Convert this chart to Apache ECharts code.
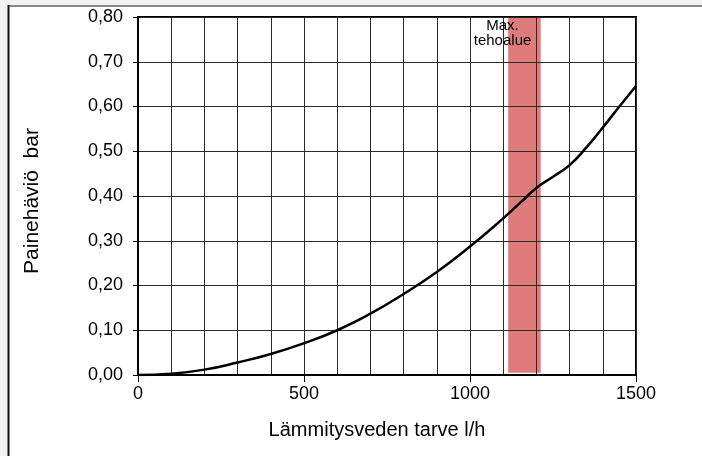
<!DOCTYPE html>
<html>
<head>
<meta charset="utf-8">
<script src="https://cdn.jsdelivr.net/npm/echarts@6/dist/echarts.min.js"></script>
<style>
  html, body { margin: 0; padding: 0; background: #f3f3f3; }
  #chart { position: absolute; left: 0; top: 0; width: 702px; height: 456px; }
</style>
</head>
<body>
<div id="chart"></div>
<script>
// Flow (l/h) and pressure drop (bar)
const flow     = [0, 100, 200, 300, 400, 500, 600, 700, 800, 900, 1000, 1100, 1150, 1200, 1250, 1300, 1350, 1400, 1450, 1500];
const pressure = [0, 0.003, 0.012, 0.028, 0.047, 0.071, 0.100, 0.137, 0.181, 0.230, 0.287, 0.350, 0.384, 0.418, 0.443, 0.469, 0.508, 0.553, 0.600, 0.646];

// Max power range band
const bandFlow = [1115, 1213];
const bandPressure = [0.005, 0.8];
const bandLabel = 'Max.\ntehoalue';
const bandLabelAt = [1098, 0.8];

// Axes
const xRange = [0, 1500];
const yRange = [0, 0.8];
const xTitle = 'Lämmitysveden tarve l/h';
const yTitle = 'Painehäviö  bar';

const chart = echarts.init(document.getElementById('chart'));
const font = 'Liberation Sans, Arial, sans-serif';
const gridLine = { show: true, lineStyle: { color: '#2a2a2a', width: 1, type: 'solid' } };

chart.setOption({
  backgroundColor: '#f3f3f3',
  animation: false,
  textStyle: { fontFamily: font },
  graphic: [
    { type: 'rect', z: -10, silent: true, shape: { x: 8, y: 5, width: 700, height: 460 }, style: { fill: '#fff' } },
    { type: 'line', z: -9, silent: true, shape: { x1: 8, y1: 6, x2: 702, y2: 6 }, style: { stroke: '#8a8a8a', lineWidth: 2 } },
    { type: 'line', z: -9, silent: true, shape: { x1: 8.5, y1: 5, x2: 8.5, y2: 456 }, style: { stroke: '#111', lineWidth: 2 } }
  ],
  grid: { left: 138, top: 17, width: 498, height: 358, show: true, borderColor: '#000', borderWidth: 2, backgroundColor: '#fff' },
  xAxis: [{
    type: 'value', min: xRange[0], max: xRange[1], interval: 500, z: 3,
    name: xTitle, nameLocation: 'middle', nameGap: 45,
    nameTextStyle: { fontSize: 20, color: '#000', fontFamily: font, padding: [0, 20, 0, 0] },
    axisLine: { show: true, onZero: false, lineStyle: { color: '#000', width: 2 } },
    axisTick: { show: true, length: 7, lineStyle: { color: '#000', width: 1 } },
    minorTick: { show: false, splitNumber: 5 },
    axisLabel: { fontSize: 18, color: '#000', margin: 10, fontFamily: font, formatter: v => String(v) },
    splitLine: gridLine,
    minorSplitLine: { show: true, lineStyle: { color: '#2a2a2a', width: 1 } }
  }],
  yAxis: [{
    type: 'value', min: yRange[0], max: yRange[1], interval: 0.1, z: 3,
    name: yTitle, nameLocation: 'middle', nameGap: 95,
    nameTextStyle: { fontSize: 21, color: '#000', fontFamily: font, padding: [0, 10, 0, 0] },
    axisLine: { show: true, onZero: false, lineStyle: { color: '#000', width: 2 } },
    axisTick: { show: true, length: 5, lineStyle: { color: '#000', width: 1 } },
    axisLabel: { fontSize: 18, color: '#000', margin: 15, fontFamily: font,
                 formatter: v => v.toFixed(2).replace('.', ',') },
    splitLine: gridLine
  }],
  series: [
    {
      type: 'line', data: [], z: 1, silent: true,
      markArea: {
        silent: true,
        itemStyle: { color: '#e07b7b' },
        data: [[{ xAxis: bandFlow[0], yAxis: bandPressure[0] }, { xAxis: bandFlow[1], yAxis: bandPressure[1] }]]
      }
    },
    {
      type: 'line', z: 5,
      data: flow.map((f, i) => [f, pressure[i]]),
      smooth: 0.5, symbol: 'none',
      lineStyle: { color: '#000', width: 2.5 },
      markPoint: {
        silent: true, symbol: 'rect', symbolSize: 0,
        data: [{ coord: bandLabelAt }],
        label: { show: true, position: 'bottom', distance: 1, formatter: bandLabel,
                 color: '#000', fontSize: 15, lineHeight: 15, fontFamily: font, align: 'center' }
      }
    }
  ]
});
</script>
</body>
</html>
